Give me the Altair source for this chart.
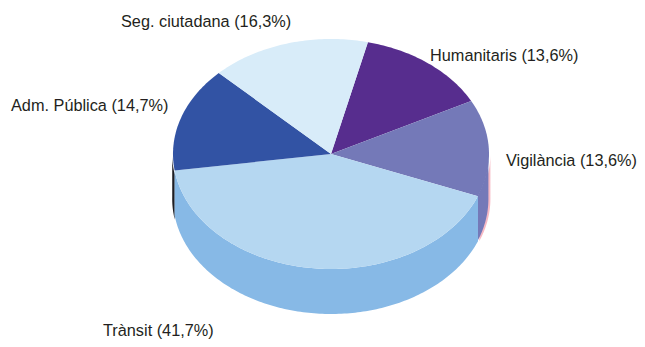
import math
import altair as alt

# Slices, clockwise from the start angle
categories = ["Humanitaris", "Vigilància", "Trànsit", "Adm. Pública", "Seg. ciutadana"]
shares = [13.6, 13.6, 41.7, 14.7, 16.3]
share_labels = ["13,6%", "13,6%", "41,7%", "14,7%", "16,3%"]
top_colors = ["#572D8E", "#7479B8", "#B5D7F1", "#3253A4", "#D8ECF9"]
wall_colors = {"Vigilància": "#7479B8", "Trànsit": "#87B9E6"}
label_x = [430, 506, 103, 11, 121]
label_y = [56, 161, 331, 106, 22]

CX, CY, RX, RY, DEPTH = 331.0, 154.0, 158.0, 115.0, 45.0
START = 13.5
TOTAL = sum(shares)


def pt(deg, rx=RX, dy=0.0):
    a = math.radians(deg)
    return [CX + rx * math.sin(a), CY - RY * math.cos(a) + dy]


def arc(a0, a1, rx=RX, dy=0.0):
    n = max(2, int(abs(a1 - a0)) + 1)
    return [pt(a0 + (a1 - a0) * i / n, rx, dy) for i in range(n + 1)]


def feature(name, ring):
    return {
        "type": "Feature",
        "properties": {"name": name},
        "geometry": {"type": "Polygon", "coordinates": [ring + [ring[0]]]},
    }


def wall(name, a0, a1, rx=RX):
    return feature(name, arc(a0, a1, rx) + arc(a1, a0, rx, DEPTH))


# Angular extents derived from the shares
edges = [START]
for s in shares:
    edges.append(edges[-1] + s / TOTAL * 360)
span = dict(zip(categories, zip(edges[:-1], edges[1:])))

walls = [
    wall("rim-pink", 90, span["Trànsit"][0], RX + 1.4),
    wall("wall-Vigilància", 90, span["Trànsit"][0], RX - 0.6),
    wall("rim-dark", span["Trànsit"][1] - 2, 271, RX + 0.8),
    wall("wall-Trànsit", *span["Trànsit"]),
]
tops = [
    feature(c, [[CX, CY]] + arc(*span[c]))
    for c in categories
]
features = walls + tops

domain = ["rim-pink", "wall-Vigilància", "rim-dark", "wall-Trànsit"] + categories
colors = ["#F6B9C4", wall_colors["Vigilància"], "#1E1E24", wall_colors["Trànsit"]] + top_colors

proj = dict(type="identity", scale=1, translate=[-8, -8])

shapes = (
    alt.Chart(alt.Data(values=features))
    .mark_geoshape(strokeWidth=0, stroke=None)
    .encode(
        color=alt.Color("properties.name:N", scale=alt.Scale(domain=domain, range=colors), legend=None)
    )
    .project(**proj)
)

label_rows = [
    {"t": f"{c} ({p})", "lon": x, "lat": y}
    for c, p, x, y in zip(categories, share_labels, label_x, label_y)
]
labels = (
    alt.Chart(alt.Data(values=label_rows))
    .mark_text(align="left", baseline="middle", font="Liberation Sans", fontSize=16.3, color="#231F20")
    .encode(longitude="lon:Q", latitude="lat:Q", text="t:N")
    .project(**proj)
)

chart = (
    alt.layer(shapes, labels)
    .properties(width=629, height=331, padding=0, autosize=alt.AutoSizeParams(type="none"))
    .configure_view(stroke=None)
)
chart.save("out.html", embed_options={"renderer": "svg", "actions": False})
